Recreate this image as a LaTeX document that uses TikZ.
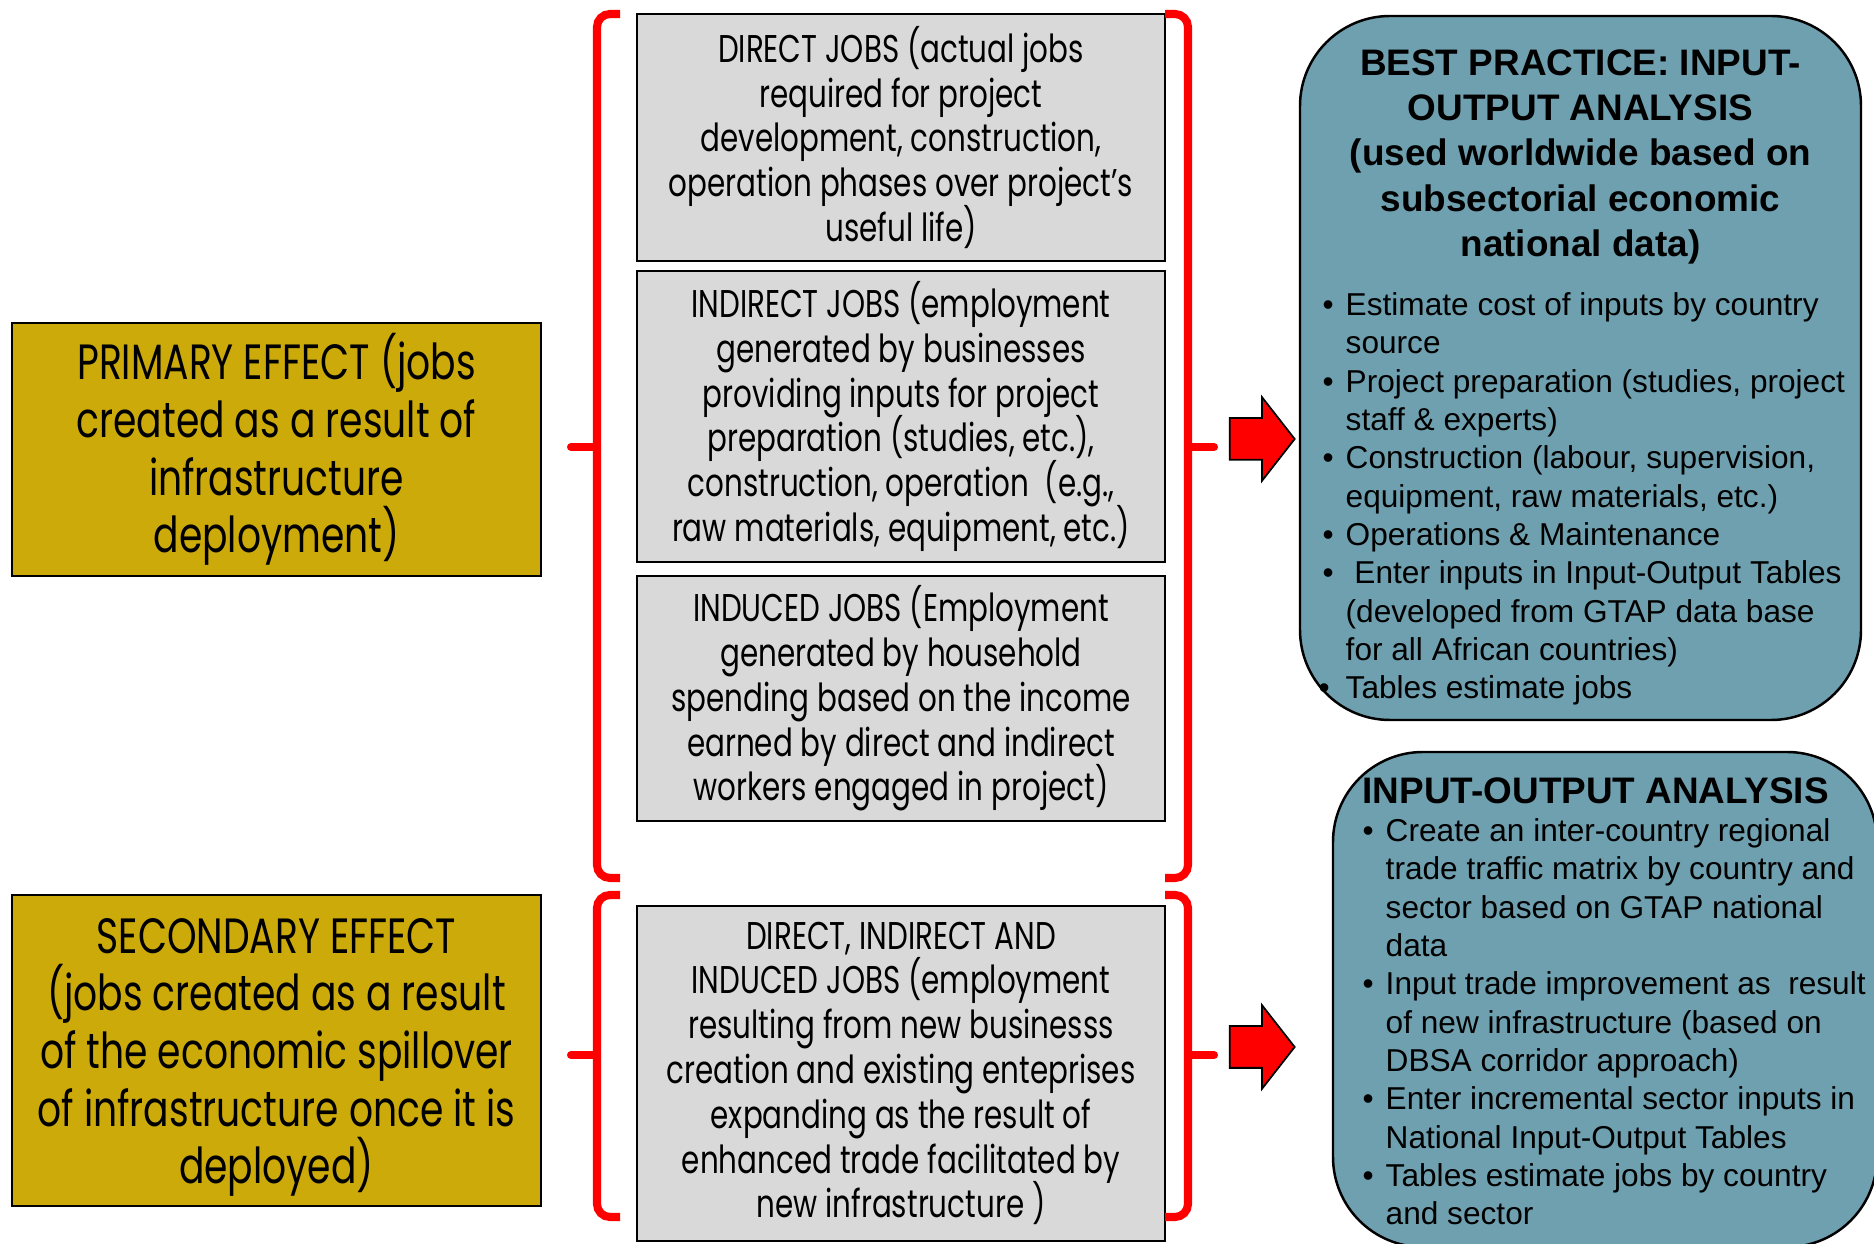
\documentclass[tikz,border=0pt]{standalone}
\usepackage{fontspec}
\setmainfont{Liberation Sans}
\newfontfamily\gothic[FakeStretch=0.76]{Poppins}
\usepackage{tikz}
\usetikzlibrary{positioning, shapes.arrows}
\definecolor{oliva}{RGB}{204, 170, 10}
\definecolor{gris}{RGB}{217, 217, 217}
\definecolor{azul}{RGB}{111, 160, 176}
\definecolor{rojo}{RGB}{255, 0, 0}
\lineskiplimit=-20pt
\newcommand{\bul}{\makebox[2.3mm][l]{•}}
\newcommand{\bulskip}{\hspace*{2.3mm}}
\tikzset{
    effect/.style={draw, rectangle, fill=oliva, line width=0.7pt, minimum width=52.9mm, inner sep=0pt, align=center, font=\gothic\fontsize{14.1}{16.4}\selectfont},
    jobs/.style={draw, rectangle, fill=gris, line width=0.6pt, minimum width=52.8mm, inner sep=0pt, align=center, font=\gothic\fontsize{11}{12.75}\selectfont},
    io/.style={draw, fill=azul, line width=0.7pt, rounded corners=9mm},
    iotitle/.style={inner sep=0pt, font=\bfseries\fontsize{10.5}{12.9}\selectfont},
    iolist/.style={inner sep=0pt, align=left, anchor=north west, font=\fontsize{9}{10.9}\selectfont},
    brc/.style={rojo, line width=2.3pt, rounded corners=1.3mm},
    redarrow/.style={single arrow, draw, fill=rojo, line width=0.5pt, minimum height=6.5mm, text height=2mm, text depth=2mm,
        single arrow head extend=2.1mm, single arrow tip angle=104, inner sep=0pt},
}

\begin{document}
\begin{tikzpicture}[x=0.1mm, y=-0.1mm]
    \useasboundingbox (0,0) rectangle (1874,1244);
    \clip (0,0) rectangle (1874,1244);

    \node[effect, minimum height=25.3mm] (prim) at (276.5,449.5) {PRIMARY EFFECT (jobs\\created as a result of\\infrastructure\\deployment)};
    \node[effect, minimum height=31.1mm] (sec) at (276.5,1050.5) {\rule{0pt}{13.9pt}SECONDARY EFFECT\\(jobs created as a result\\of the economic spillover\\of infrastructure once it is\\deployed)};

    \node[jobs, minimum height=24.7mm] (dir) at (901,137.5) {DIRECT JOBS (actual jobs\\required for project\\development, construction,\\operation phases over project’s\\useful life)};
    \node[jobs, minimum height=29.1mm] (ind) at (901,416.5) {INDIRECT JOBS (employment\\generated by businesses\\providing inputs for project\\preparation (studies, etc.),\\construction, operation~~(e.g.,\\raw materials, equipment, etc.)};
    \node[jobs, minimum height=24.5mm] (indu) at (901,698.5) {INDUCED JOBS (Employment\\generated by household\\spending based on the income\\earned by direct and indirect\\workers engaged in project)};
    \node[jobs, minimum height=33.5mm] (all) at (901,1073.5) {DIRECT, INDIRECT AND\\INDUCED JOBS (employment\\resulting from new businesss\\creation and existing enteprises\\expanding as the result of\\enhanced trade facilitated by\\new infrastructure )};

    \draw[brc] (620,14) -- (597,14) -- (597,878) -- (620,878);
    \draw[brc, line cap=round] (597,447) -- (571,447);
    \draw[brc] (620,895) -- (597,895) -- (597,1217) -- (620,1217);
    \draw[brc, line cap=round] (597,1055) -- (571,1055);

    \draw[brc] (1165,14) -- (1188,14) -- (1188,878) -- (1165,878);
    \draw[brc, line cap=round] (1188,447) -- (1214,447);
    \draw[brc] (1165,895) -- (1188,895) -- (1188,1217) -- (1165,1217);
    \draw[brc, line cap=round] (1188,1055) -- (1214,1055);

    \node[redarrow] (arr1) at (1254,439) {};
    \node[redarrow] (arr2) at (1254,1047) {};

    \node[io, minimum width=56.1mm, minimum height=70.4mm] (best) at (1580.5,368) {};
    \node[iotitle, align=center, below=3.4mm of best.north] (besttitle) {BEST PRACTICE: INPUT-\\OUTPUT ANALYSIS\\(used worldwide based on\\subsectorial economic\\national data)};
    \node[iolist] (bestlist) at (1322,292) {\bul Estimate cost of inputs by country\\\bulskip source\\
        \bul Project preparation (studies, project\\\bulskip staff \& experts)\\
        \bul Construction (labour, supervision,\\\bulskip equipment, raw materials, etc.)\\
        \bul Operations \& Maintenance\\
        \bul\ Enter inputs in Input-Output Tables\\\bulskip (developed from GTAP data base\\\bulskip for all African countries)\\
        \hspace*{-0.4mm}\makebox[2.7mm][l]{•}Tables estimate jobs};

    \draw[io] (1333,752) rectangle (1877,1247);
    \node[iotitle, anchor=north west] (iotit) at (1362,777) {INPUT-OUTPUT ANALYSIS};
    \node[iolist] (iolst) at (1362,818) {\bul Create an inter-country regional\\\bulskip trade traffic matrix by country and\\\bulskip sector based on GTAP national\\\bulskip data\\
        \bul Input trade improvement as~~result\\\bulskip of new infrastructure (based on\\\bulskip DBSA corridor approach)\\
        \bul Enter incremental sector inputs in\\\bulskip National Input-Output Tables\\
        \bul Tables estimate jobs by country\\\bulskip and sector};
\end{tikzpicture}
\end{document}
